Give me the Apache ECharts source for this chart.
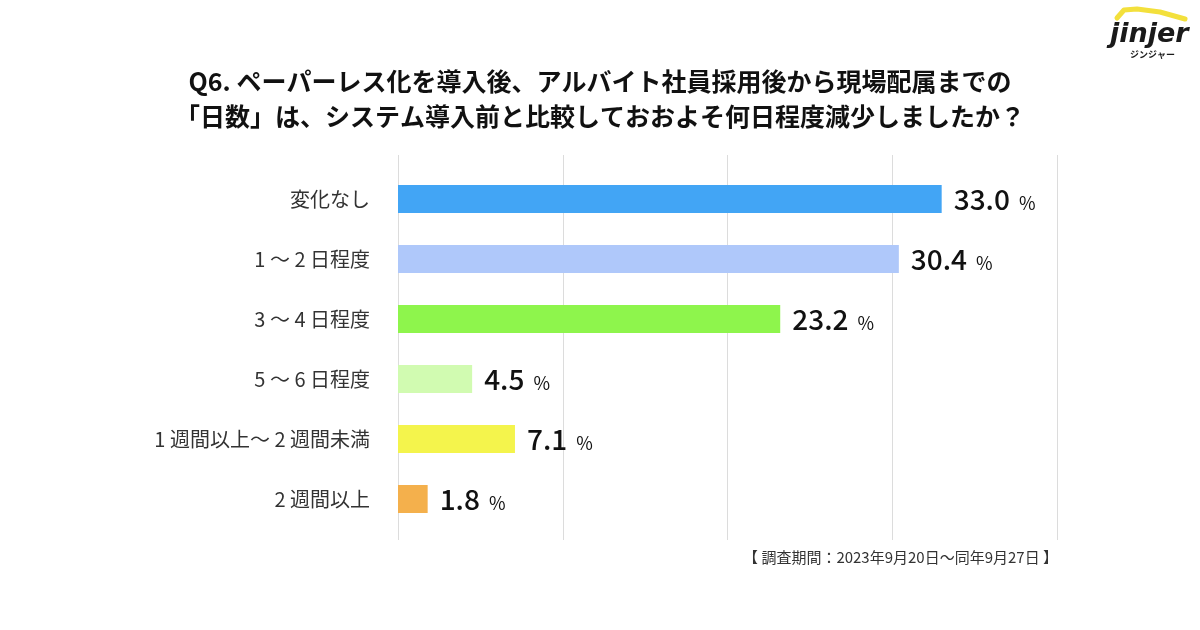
<!DOCTYPE html>
<html>
<head>
<meta charset="utf-8">
<script src="https://cdn.jsdelivr.net/npm/echarts@6/dist/echarts.min.js"></script>
<style>html,body{margin:0;padding:0;background:#fff;}#c{width:1200px;height:630px;}</style>
</head>
<body>
<div id="c"></div>
<script>
const categories = ['変化なし', '1 〜 2 日程度', '3 〜 4 日程度', '5 〜 6 日程度', '1 週間以上〜 2 週間未満', '2 週間以上'];
const values = [33.0, 30.4, 23.2, 4.5, 7.1, 1.8];
const barColors = ['#42A5F5', '#AFC8FA', '#8EF54C', '#D1FBB1', '#F4F44C', '#F4B04C'];
const axisTicks = [0, 10, 20, 30, 40];
const titleLines = ['Q6. ペーパーレス化を導入後、アルバイト社員採用後から現場配属までの', '「日数」は、システム導入前と比較しておおよそ何日程度減少しましたか？'];
const footnote = '【 調査期間：2023年9月20日〜同年9月27日 】';

const FONT = '"Noto Sans CJK JP", "Noto Sans", sans-serif';
const chart = echarts.init(document.getElementById('c'), null, {renderer: 'canvas'});

const option = {
  backgroundColor: '#ffffff',
  animation: false,
  title: {
    text: titleLines.join('\n'),
    left: 'center',
    top: 59,
    textStyle: {fontFamily: FONT, fontSize: 25, fontWeight: 'bold', color: '#111', lineHeight: 35}
  },
  graphic: [
    {type: 'text', right: 142, top: 550, style: {text: footnote, font: '15px ' + FONT, fill: '#333'}},
    {type: 'polyline', shape: {points: [[1117, 18], [1124, 10], [1137, 9], [1160, 12], [1185, 19]]},
     style: {stroke: '#F3E03C', lineWidth: 5, fill: null, lineJoin: 'round', lineCap: 'round'}},
    {type: 'text', left: 1110, top: 21, style: {text: 'jinjer', font: 'italic bold 27px "DejaVu Sans", sans-serif', fill: '#1a1a1a'}},
    {type: 'text', left: 1130, top: 50, style: {text: 'ジンジャー', font: 'bold 9px ' + FONT, fill: '#1a1a1a'}}
  ],
  grid: [
    {left: 398, right: 143, top: 155, bottom: 90},
    {left: 398, right: 143, top: 169, bottom: 101}
  ],
  xAxis: [
    {gridIndex: 0, type: 'value', min: axisTicks[0], max: axisTicks[axisTicks.length - 1], interval: axisTicks[1] - axisTicks[0],
     axisLabel: {show: false}, axisLine: {show: false}, axisTick: {show: false},
     splitLine: {show: true, lineStyle: {color: '#dcdcdc', width: 1}}},
    {gridIndex: 1, type: 'value', min: axisTicks[0], max: axisTicks[axisTicks.length - 1], show: false}
  ],
  yAxis: [
    {gridIndex: 0, type: 'value', show: false},
    {gridIndex: 1, type: 'category', data: categories, inverse: true,
     axisLine: {show: false}, axisTick: {show: false}, splitLine: {show: false},
     axisLabel: {margin: 28, fontFamily: FONT, fontSize: 20, color: '#333'}}
  ],
  series: [{
    type: 'bar',
    xAxisIndex: 1,
    yAxisIndex: 1,
    barWidth: 28,
    data: values.map((v, i) => ({value: v, itemStyle: {color: barColors[i]}})),
    label: {
      show: true,
      position: 'right',
      distance: 12,
      formatter: p => '{v|' + p.value.toFixed(1) + '}{p|%}',
      rich: {
        v: {fontFamily: FONT, fontSize: 28, fontWeight: 500, color: '#111'},
        p: {fontFamily: FONT, fontSize: 18, color: '#111', padding: [8, 0, 0, 9]}
      }
    }
  }]
};
chart.setOption(option);
</script>
</body>
</html>
